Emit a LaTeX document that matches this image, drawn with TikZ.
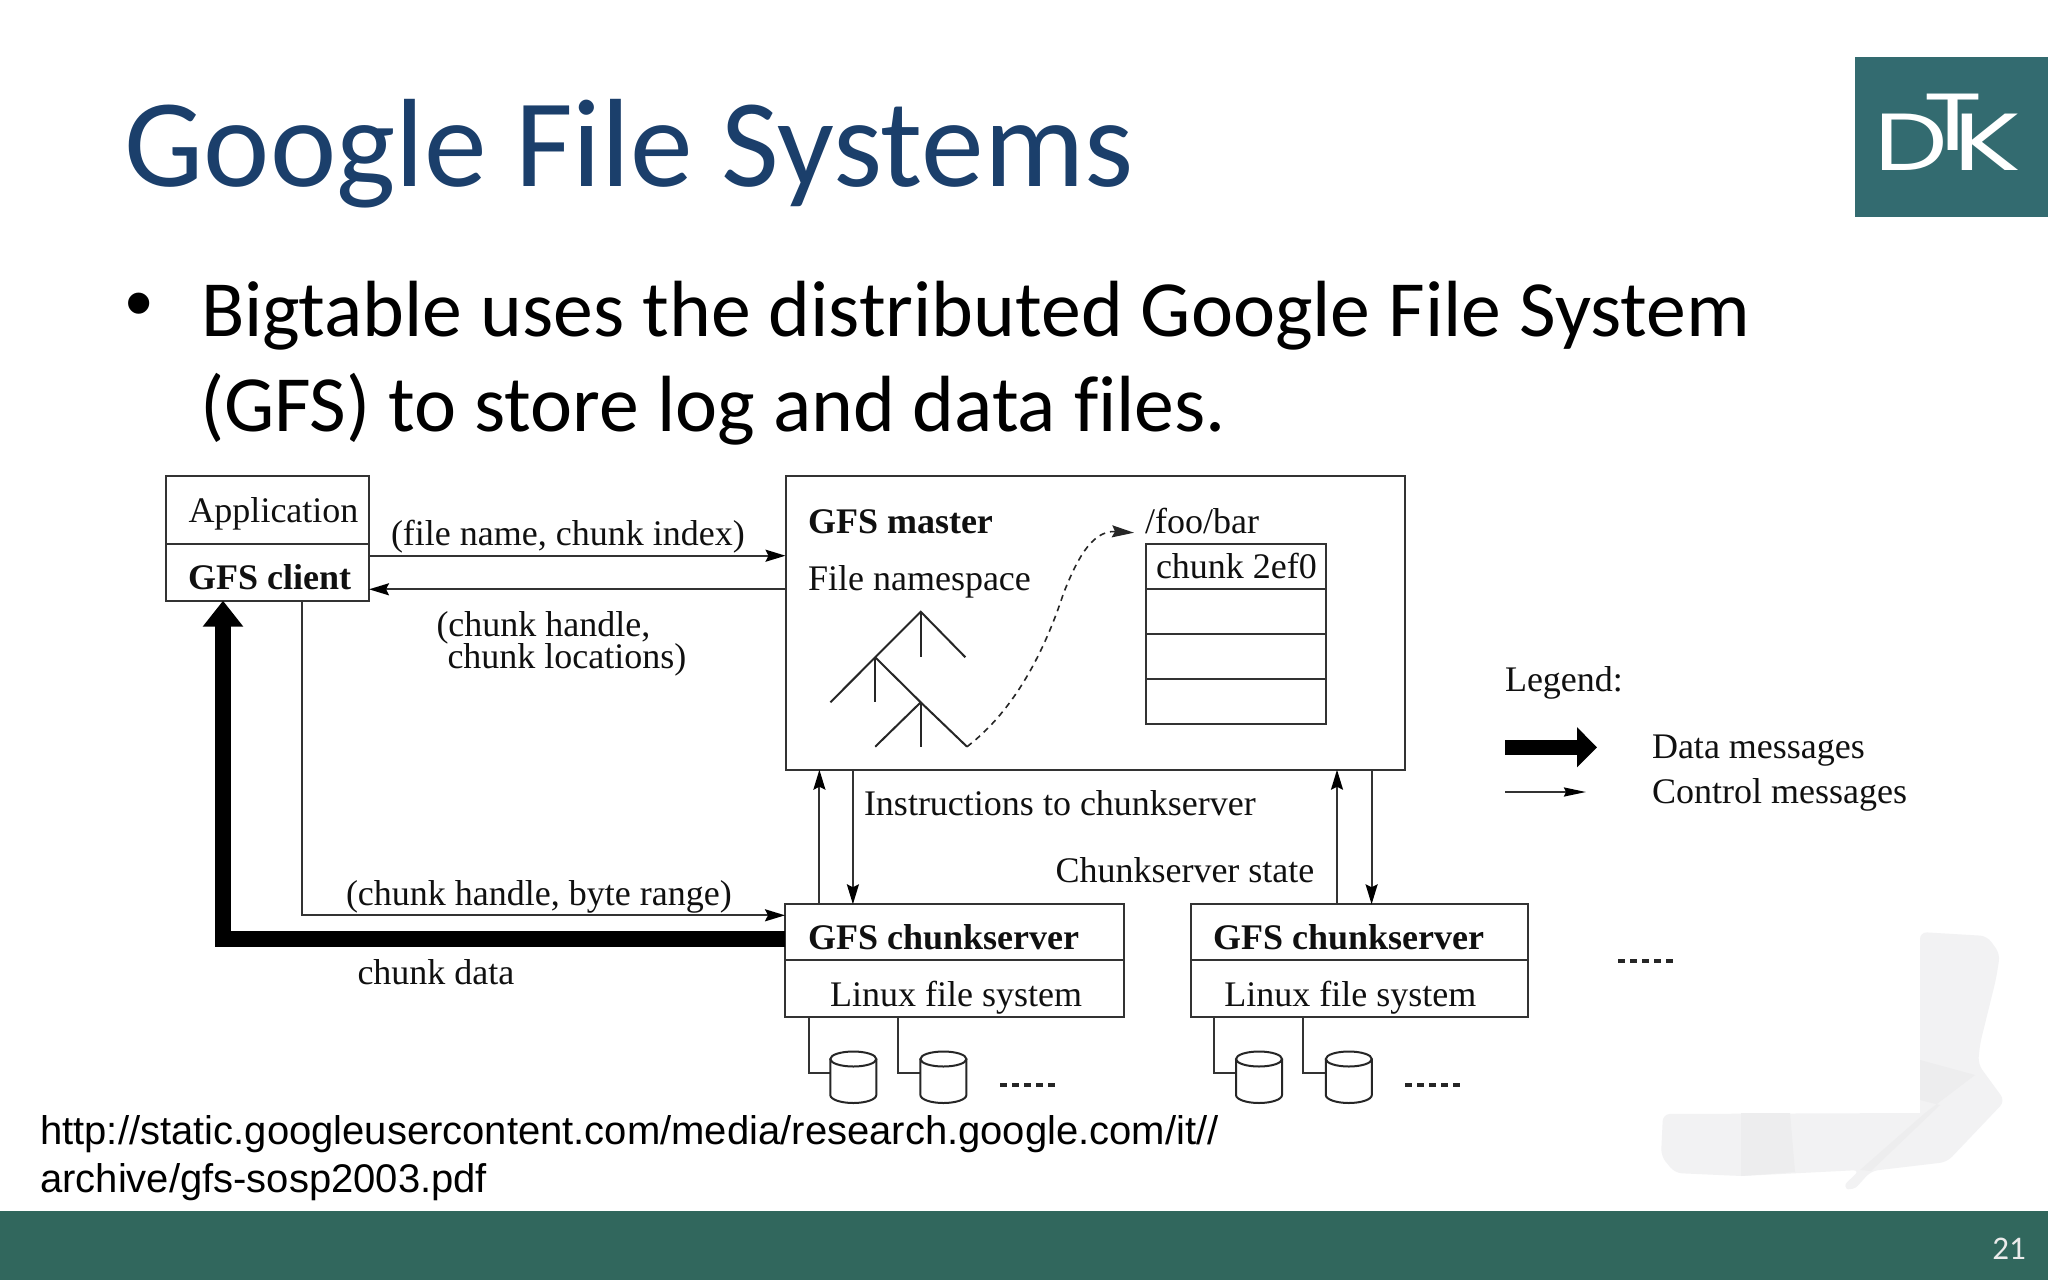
\documentclass[tikz,border=0pt]{standalone}
\usepackage{fontspec}
\usepackage{graphicx}
\usetikzlibrary{arrows.meta,calc}
\setmainfont{Liberation Serif}
\newfontfamily\slidefont[Ligatures=NoCommon]{Carlito}
\newfontfamily\urlfont{Liberation Sans}
\newfontfamily\logofont{Poppins}
\definecolor{titleblue}{HTML}{1B3F6B}
\definecolor{footgreen}{HTML}{31675D}
\definecolor{logoteal}{HTML}{336B70}
\definecolor{inkline}{HTML}{333333}
\definecolor{inktext}{HTML}{101010}
\definecolor{wmark}{HTML}{F2F2F3}
\definecolor{wmarkdark}{HTML}{EDEDEE}
\tikzset{
  lbl/.style={anchor=base west,inner sep=0pt,outer sep=0pt,text=inktext,font=\fontsize{36}{43}\selectfont},
  lblb/.style={lbl,font=\fontsize{36}{43}\selectfont\bfseries},
  boxn/.style={draw=inkline,line width=2pt,anchor=north west,inner sep=0pt,outer sep=0pt},
  ctl/.style={draw=inkline,line width=2pt,-{Stealth[length=20pt,width=12pt,inset=3pt,color=black]}},
  plain/.style={draw=inkline,line width=2pt},
  treeln/.style={draw=black!85,line width=2pt},
  dataln/.style={draw=black,line width=15.7pt,-{Triangle[length=26pt,width=39pt]}},
  dotsln/.style={draw=black!85,line width=4pt,dash pattern=on 7pt off 5pt},
  disk/.pic={
    \path[draw=black!85,line width=2pt,fill=white]
      (-23,0) -- (-23,36) arc[start angle=180,end angle=360,x radius=23pt,y radius=8pt]
      -- (23,0);
    \draw[black!85,line width=2pt,fill=white] (0,0) ellipse[x radius=23pt,y radius=7.5pt];
  },
  slide/.style={anchor=base west,inner sep=0pt,outer sep=0pt,font=\slidefont\fontsize{79.7}{96}\selectfont,text=black},
  logol/.style={anchor=base west,inner sep=0pt,outer sep=0pt,text=white,font=\logofont\fontsize{81}{90}\selectfont}
}
\begin{document}
\begin{tikzpicture}[x=1pt,y=-1pt]
\useasboundingbox (0,0) rectangle (2048,1280);
\fill[white] (0,0) rectangle (2048,1280);
% watermark
\fill[wmark,rounded corners=7pt] (1920,932) -- (1987,936) -- (2000,954) -- (1996,979) -- (1980,1044) -- (1978,1064) -- (2005,1101) -- (1947,1162) -- (1871,1171) -- (1853,1191) -- (1842,1187) -- (1860,1170) -- (1741,1176) -- (1675,1173) -- (1661,1156) -- (1663,1114) -- (1920,1113) -- cycle;
\fill[white] (1900,925) rectangle (1920,1113);
\fill[white] (1655,1100) rectangle (1920,1113);
\fill[wmarkdark] (1741,1113) -- (1790,1113) -- (1795,1172) -- (1741,1176) -- cycle;
\fill[wmarkdark] (1920,1060) -- (1975,1075) -- (1925,1113) -- (1860,1170) -- (1871,1171) -- (1940,1105) -- (1920,1100) -- cycle;
% footer
\fill[footgreen] (0,1211) rectangle (2048,1280);
\node[anchor=base east,inner sep=0pt,text=white!92!black,font=\slidefont\fontsize{33}{37}\selectfont] (pageno) at (2026,1259) {21};
% logo
\fill[logoteal] (1855,57) rectangle (2048,217);
\node[logol] (logoD) at (1874,170) {\scalebox{1.28}[1]{D}};
\node[logol] (logoK) at (1953,170) {\scalebox{1.4}[1]{K}};
\node[logol] (logoT) at (1923,150) {\scalebox{1.35}[1]{T}};
% title and body
\node[anchor=base west,inner sep=0pt,text=titleblue,font=\slidefont\fontsize{125.6}{150}\selectfont] (title) at (124.5,186) {Google File Systems};
\node[anchor=base west,inner sep=0pt,font=\urlfont\fontsize{78}{96}\selectfont] (bullet) at (125,329) {•};
\node[slide] (bodyA) at (201,336) {Bigtable uses the distributed Google File System};
\node[slide] (bodyB) at (200,431.5) {(GFS) to store log and data files.};
% client boxes
\node[boxn,minimum width=203.5pt,minimum height=68.3pt] (app) at (165.5,476) {};
\node[boxn,minimum width=203.5pt,minimum height=56.4pt] (client) at (165.5,544.3) {};
\node[lbl] (appt) at (188.5,522.5) {Application};
\node[lblb] (clientt) at (188,589.5) {GFS client};
% master
\node[boxn,minimum width=619.5pt,minimum height=293.7pt] (master) at (785.5,476) {};
\node[lblb] (mastert) at (808,533) {GFS master};
\node[lbl] (nst) at (808,590) {File namespace};
\node[lbl] (foot) at (1145,533) {/foo/bar};
\node[boxn,minimum width=180.5pt,minimum height=45.3pt] (c1) at (1145.5,544) {};
\node[boxn,minimum width=180.5pt,minimum height=45pt] (c2) at (1145.5,589.3) {};
\node[boxn,minimum width=180.5pt,minimum height=45pt] (c3) at (1145.5,634.3) {};
\node[boxn,minimum width=180.5pt,minimum height=45pt] (c4) at (1145.5,679.3) {};
\node[lbl] (c1t) at (1156,578) {chunk 2ef0};
% tree
\coordinate (ta) at (920.7,611.7);
\coordinate (tb) at (875.2,657.3);
\coordinate (tc) at (920.7,702.3);
\coordinate (te) at (967,746.7);
\coordinate (tarrow) at (1134,532.7);
\draw[treeln] (965.4,657.3) -- (ta) -- (tb) -- (830.4,702.3);
\draw[treeln] (ta) -- (920.7,657.3);
\draw[treeln] (tb) -- (875.2,702.3);
\draw[treeln] (tb) -- (tc) -- (te);
\draw[treeln] (tc) -- (920.7,746.7);
\draw[treeln] (tc) -- (875.2,746.7);
\draw[draw=black!85,line width=1.6pt,dash pattern=on 6pt off 5pt,-{Stealth[length=22pt,width=12pt,inset=3pt]}]
  (te) .. controls (1015,710) and (1045,650) .. (1063.6,593) .. controls (1075,565) and (1090,530) .. (tarrow);
% chunkservers
\node[boxn,minimum width=338.5pt,minimum height=56pt] (csA) at (785,904.3) {};
\node[boxn,minimum width=338.5pt,minimum height=56.7pt] (csAf) at (785,960.3) {};
\node[boxn,minimum width=337pt,minimum height=56pt] (csB) at (1191,904.3) {};
\node[boxn,minimum width=337pt,minimum height=56.7pt] (csBf) at (1191,960.3) {};
\node[lblb] (csAt) at (808,949) {GFS chunkserver};
\node[lbl] (csAl) at (830,1006) {Linux file system};
\node[lblb] (csBt) at (1213,949) {GFS chunkserver};
\node[lbl] (csBl) at (1224.4,1006) {Linux file system};
% labels
\node[lbl] (l1) at (391,545) {(file name, chunk index)};
\node[lbl] (l2) at (436.5,636) {(chunk handle,};
\node[lbl] (l3) at (447.5,668.5) {chunk locations)};
\node[lbl] (l4) at (346,905) {(chunk handle, byte range)};
\node[lbl] (l5) at (357.5,984) {chunk data};
\node[lbl] (l6) at (864,815) {Instructions to chunkserver};
\node[lbl] (l7) at (1055.5,882.5) {Chunkserver state};
% control connectors
\coordinate (a1s) at (client.east |- 0,555.7);
\coordinate (a1e) at (master.west |- 0,555.7);
\coordinate (a2s) at (master.west |- 0,589.3);
\coordinate (a2e) at (client.east |- 0,589.3);
\draw[ctl] (a1s) -- (a1e);
\draw[ctl] (a2s) -- (a2e);
\coordinate (rs) at (301.5,600.7);
\coordinate (re) at (785,915.3);
\draw[ctl] (rs) |- (re);
\coordinate (u1s) at (819.4,904.3);
\coordinate (u1e) at (819.4,769.7);
\coordinate (d1s) at (852.9,769.7);
\coordinate (d1e) at (852.9,904.3);
\coordinate (u2s) at (1337,904.3);
\coordinate (u2e) at (1337,769.7);
\coordinate (d2s) at (1371.6,769.7);
\coordinate (d2e) at (1371.6,904.3);
\draw[ctl] (u1s) -- (u1e);
\draw[ctl] (d1s) -- (d1e);
\draw[ctl] (u2s) -- (u2e);
\draw[ctl] (d2s) -- (d2e);
% data connector
\coordinate (ds) at (785,939);
\coordinate (de) at (223,600.7);
\draw[dataln] (ds) -| (de);
% disks
\coordinate (w1a) at (808.5,1017);\coordinate (w1b) at (830.3,1073.3);
\coordinate (w2a) at (898,1017);\coordinate (w2b) at (920.4,1073.3);
\coordinate (w3a) at (1214,1017);\coordinate (w3b) at (1236,1073.3);
\coordinate (w4a) at (1303.4,1017);\coordinate (w4b) at (1325.8,1073.3);
\draw[plain] (w1a) |- (w1b);
\draw[plain] (w2a) |- (w2b);
\draw[plain] (w3a) |- (w3b);
\draw[plain] (w4a) |- (w4b);
\pic at (853.3,1059) {disk};
\pic at (943.4,1059) {disk};
\pic at (1259,1059) {disk};
\pic at (1348.8,1059) {disk};
\draw[dotsln] (1000,1085) -- (1056,1085);
\draw[dotsln] (1405,1085) -- (1461,1085);
\draw[dotsln] (1618,961) -- (1676,961);
% legend
\node[lbl] (legt) at (1505,691) {Legend:};
\node[lbl] (dm) at (1652,758) {Data messages};
\node[lbl] (cm) at (1652,803) {Control messages};
\coordinate (lda) at (1505,747.3);\coordinate (ldb) at (1597,747.3);
\coordinate (lca) at (1505,792);\coordinate (lcb) at (1586,792);
\draw[draw=black,line width=15pt,-{Triangle[length=20pt,width=39pt]}] (lda) -- (ldb);
\draw[ctl,-{Stealth[length=22pt,width=9pt,inset=2pt,color=black]}] (lca) -- (lcb);
% url
\node[anchor=base west,inner sep=0pt,text=black,font=\urlfont\fontsize{40}{48}\selectfont] (urlA) at (40,1144) {http://static.googleusercontent.com/media/research.google.com/it//};
\node[anchor=base west,inner sep=0pt,text=black,font=\urlfont\fontsize{40}{48}\selectfont] (urlB) at (40,1192) {archive/gfs-sosp2003.pdf};
\end{tikzpicture}
\end{document}
